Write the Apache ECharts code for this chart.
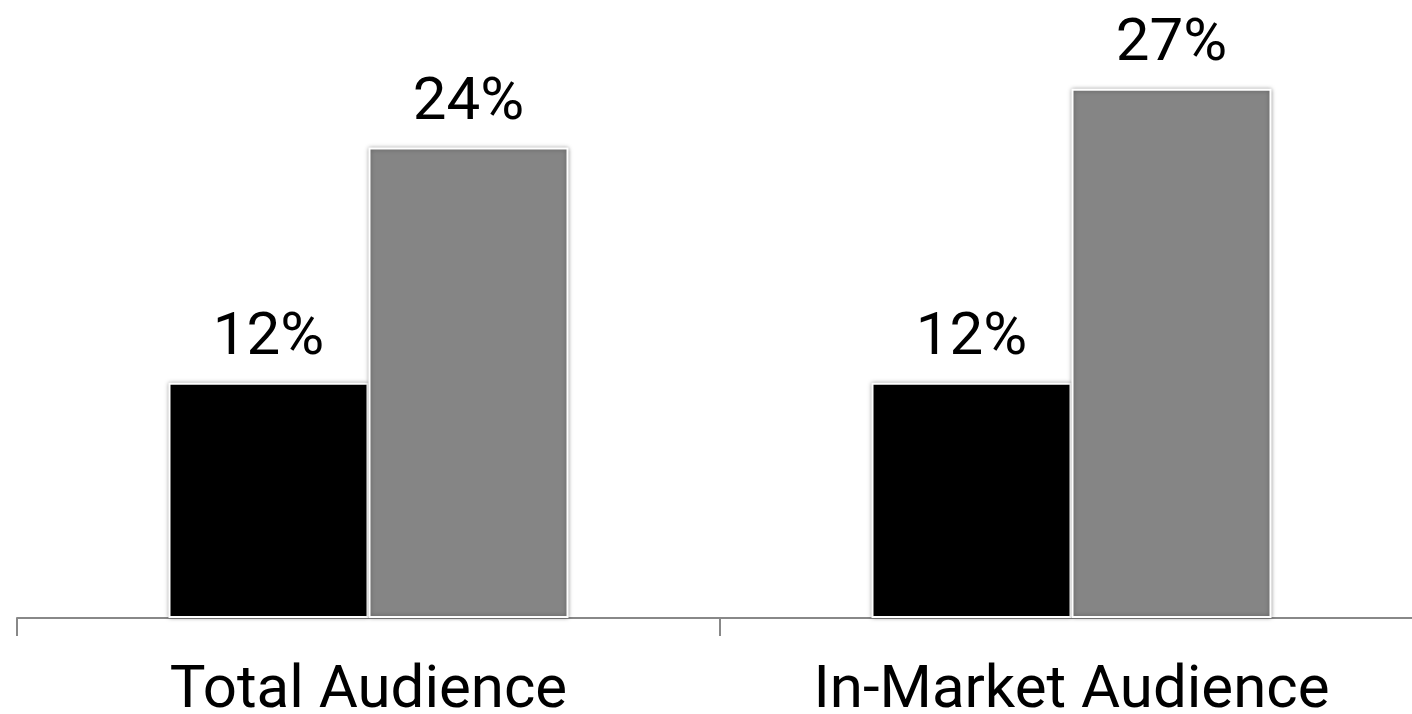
<!DOCTYPE html>
<html><head><meta charset="utf-8">
<script src="https://cdn.jsdelivr.net/npm/echarts@6/dist/echarts.min.js"></script>
<style>html,body{margin:0;padding:0;background:#fff;overflow:hidden}#c{width:1412px;height:714px}</style>
</head><body><div id="c"></div>
<script>
const categories = ['Total Audience', 'In-Market Audience'];
const seriesA = [12, 12];
const seriesB = [24, 27];
const chart = echarts.init(document.getElementById('c'));
const fam = 'Roboto';
const barStyle = c => ({color: c, borderColor: '#fff', borderWidth: 2, shadowBlur: 4, shadowColor: 'rgba(0,0,0,0.35)'});
const lbl = {show: true, position: 'top', distance: 14, formatter: p => p.value + '%', color: '#000', fontSize: 60, fontFamily: fam};
chart.setOption({
  animation: false,
  grid: {left: 17, top: 30, width: 1406, height: 588, containLabel: false, outerBoundsMode: 'none'},
  xAxis: {type: 'category', data: categories,
    axisLine: {lineStyle: {color: '#888', width: 2}},
    axisTick: {show: true, length: 18, lineStyle: {color: '#888', width: 2}},
    axisLabel: {color: '#000', fontSize: 60, fontFamily: fam, margin: 44}},
  yAxis: {type: 'value', min: 0, max: 30, show: false, splitLine: {show: false}},
  series: [
    {type: 'bar', data: seriesA, barWidth: 200, barGap: '0%', itemStyle: barStyle('#000'), label: lbl},
    {type: 'bar', data: seriesB, barWidth: 200, itemStyle: barStyle('#858585'), label: lbl}
  ]
});
</script></body></html>
